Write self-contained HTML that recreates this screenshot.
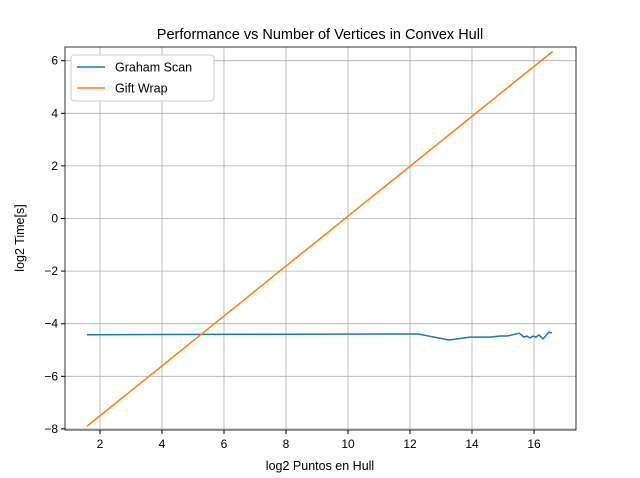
<!DOCTYPE html>
<html><head><meta charset="utf-8"><style>
body{margin:0;background:#fff;}
svg{display:block;font-family:"Liberation Sans","DejaVu Sans",sans-serif;}
</style></head><body>
<svg id="c" width="640" height="478"></svg>
<script>
const xTicks=[2,4,6,8,10,12,14,16];
const yTicks=[-8,-6,-4,-2,0,2,4,6];
const grahamX=[1.58,4,8,12.26,13.26,13.94,14.58,14.9,15.13,15.42,15.52,15.68,15.77,15.87,15.97,16.06,16.16,16.29,16.39,16.48,16.58];
const grahamY=[-4.42,-4.41,-4.40,-4.39,-4.62,-4.51,-4.51,-4.47,-4.47,-4.39,-4.36,-4.51,-4.47,-4.54,-4.47,-4.51,-4.43,-4.58,-4.45,-4.32,-4.35];
const giftX=[1.58,16.6];
const giftY=[-7.9,6.35];
const L=65,R=576,T=47,B=430;
const sx=v=>38+v*31, sy=v=>218.5-v*26.3;
const svg=document.getElementById('c');
const NS='http://www.w3.org/2000/svg';
function mk(t,a,txt){const e=document.createElementNS(NS,t);for(const k in a)e.setAttribute(k,a[k]);if(txt!==undefined)e.textContent=txt;svg.appendChild(e);return e;}
xTicks.forEach(v=>{const x=sx(v);
const g=mk('line',{x1:x,x2:x,y1:T,y2:B,stroke:'#b0b0b0','stroke-width':0.8});


mk('line',{x1:x,x2:x,y1:B,y2:B+4,stroke:'#000'});
const t=mk('text',{x:x,y:B+18,'text-anchor':'middle','font-size':12},v);

});
yTicks.forEach(v=>{const y=sy(v);
const g=mk('line',{x1:L,x2:R,y1:y,y2:y,stroke:'#b0b0b0','stroke-width':0.8});


mk('line',{x1:L-4,x2:L,y1:y,y2:y,stroke:'#000'});
const t=mk('text',{x:L-7,y:y+4,'text-anchor':'end','font-size':12},v<0?'\u2212'+(-v):v);

});
function line(xs,ys,c,n){const p=mk('polyline',{points:xs.map((x,i)=>sx(x)+','+sy(ys[i])).join(' '),fill:'none',stroke:c,'stroke-width':1.5});

}
line(grahamX,grahamY,'#1f77b4','graham-scan-line');
line(giftX,giftY,'#ff7f0e','gift-wrap-line');
const fr=mk('rect',{x:L,y:T,width:R-L,height:B-T,fill:'none',stroke:'#000','stroke-width':0.8});


const ti=mk('text',{x:320,y:39,'text-anchor':'middle','font-size':14.5},'Performance vs Number of Vertices in Convex Hull');


const xl=mk('text',{x:320,y:470,'text-anchor':'middle','font-size':12.5},'log2 Puntos en Hull');


const yl=mk('text',{x:0,y:0,'text-anchor':'middle','font-size':12.5,transform:'translate(24,238) rotate(-90)'},'log2 Time[s]');


const lg=mk('rect',{x:71,y:55,width:143,height:46,rx:3,fill:'#fff',stroke:'#ccc'});


[['Graham Scan','#1f77b4',67],['Gift Wrap','#ff7f0e',88]].forEach(([n,c,y])=>{
mk('line',{x1:77,x2:105,y1:y,y2:y,stroke:c,'stroke-width':1.5});
const t=mk('text',{x:115,y:y+4.5,'font-size':12.5},n);

});
</script>
</body></html>
